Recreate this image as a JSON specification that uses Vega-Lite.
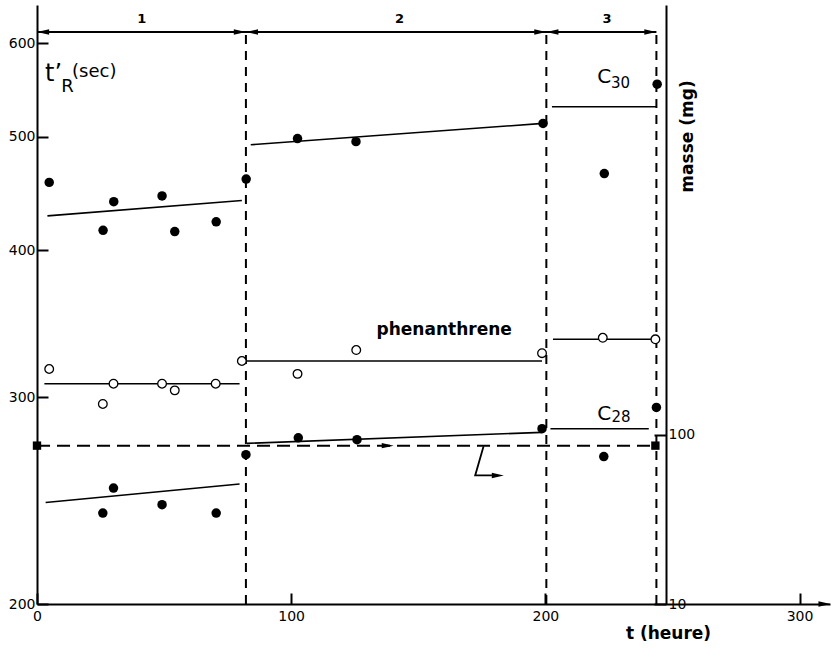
{
  "$schema": "https://vega.github.io/schema/vega-lite/v6.json",
  "width": 793,
  "height": 599,
  "autosize": {"type": "none"},
  "padding": {"left": 37, "top": 5, "right": 1, "bottom": 45},
  "background": "white",
  "config": {"view": {"stroke": null}, "font": "DejaVu Sans"},
  "datasets": {
    "pts": [
      {"s": "C30", "f": "filled", "t": 4.8, "v": 457},
      {"s": "C30", "f": "filled", "t": 26.0, "v": 416},
      {"s": "C30", "f": "filled", "t": 30.2, "v": 440},
      {"s": "C30", "f": "filled", "t": 49.2, "v": 445},
      {"s": "C30", "f": "filled", "t": 54.2, "v": 415},
      {"s": "C30", "f": "filled", "t": 70.5, "v": 423},
      {"s": "C30", "f": "filled", "t": 82.3, "v": 460},
      {"s": "C30", "f": "filled", "t": 102.5, "v": 498},
      {"s": "C30", "f": "filled", "t": 125.5, "v": 495},
      {"s": "C30", "f": "filled", "t": 199.1, "v": 513},
      {"s": "C30", "f": "filled", "t": 223.2, "v": 465},
      {"s": "C30", "f": "filled", "t": 244.0, "v": 554},
      {"s": "phenanthrene", "f": "open", "t": 4.8, "v": 317},
      {"s": "phenanthrene", "f": "open", "t": 25.9, "v": 296},
      {"s": "phenanthrene", "f": "open", "t": 30.1, "v": 308},
      {"s": "phenanthrene", "f": "open", "t": 49.2, "v": 308},
      {"s": "phenanthrene", "f": "open", "t": 54.2, "v": 304},
      {"s": "phenanthrene", "f": "open", "t": 70.3, "v": 308},
      {"s": "phenanthrene", "f": "open", "t": 80.6, "v": 322},
      {"s": "phenanthrene", "f": "open", "t": 102.5, "v": 314},
      {"s": "phenanthrene", "f": "open", "t": 125.6, "v": 329},
      {"s": "phenanthrene", "f": "open", "t": 198.7, "v": 327},
      {"s": "phenanthrene", "f": "open", "t": 222.6, "v": 337},
      {"s": "phenanthrene", "f": "open", "t": 243.3, "v": 336},
      {"s": "C28", "f": "filled", "t": 25.9, "v": 239},
      {"s": "C28", "f": "filled", "t": 30.1, "v": 251},
      {"s": "C28", "f": "filled", "t": 49.2, "v": 243},
      {"s": "C28", "f": "filled", "t": 70.5, "v": 239},
      {"s": "C28", "f": "filled", "t": 82.2, "v": 268},
      {"s": "C28", "f": "filled", "t": 102.8, "v": 277},
      {"s": "C28", "f": "filled", "t": 125.9, "v": 276},
      {"s": "C28", "f": "filled", "t": 198.7, "v": 282},
      {"s": "C28", "f": "filled", "t": 223.0, "v": 267},
      {"s": "C28", "f": "filled", "t": 243.7, "v": 294}
    ],
    "fits": [
      {"id": "C30-1", "t": 4.1, "v": 428}, {"id": "C30-1", "t": 80.6, "v": 441},
      {"id": "C30-2", "t": 84.1, "v": 492}, {"id": "C30-2", "t": 199.1, "v": 513},
      {"id": "C30-3", "t": 202.6, "v": 530}, {"id": "C30-3", "t": 243.7, "v": 530},
      {"id": "phen-1", "t": 2.9, "v": 308}, {"id": "phen-1", "t": 79.7, "v": 308},
      {"id": "phen-2", "t": 81.9, "v": 322}, {"id": "phen-2", "t": 198.7, "v": 322},
      {"id": "phen-3", "t": 203.0, "v": 336}, {"id": "phen-3", "t": 243.3, "v": 336},
      {"id": "C28-1", "t": 3.4, "v": 244}, {"id": "C28-1", "t": 79.7, "v": 253},
      {"id": "C28-2", "t": 82.6, "v": 274}, {"id": "C28-2", "t": 198.7, "v": 280},
      {"id": "C28-3", "t": 202.0, "v": 282}, {"id": "C28-3", "t": 240.7, "v": 282}
    ],
    "bounds": [
      {"t": 82.2, "v": 200, "v2": 613.7},
      {"t": 200.4, "v": 200, "v2": 613.7},
      {"t": 243.7, "v": 200, "v2": 613.7}
    ],
    "span": [{"t": 0, "t2": 243.7, "v": 613.7}],
    "headsR": [
      {"t": 79.8, "v": 613.7}, {"t": 198.0, "v": 613.7}, {"t": 241.3, "v": 613.7},
      {"t": 309.8, "v": 200}, {"t": 181.3, "v": 257.3}
    ],
    "headsL": [
      {"t": 2.4, "v": 613.7}, {"t": 84.6, "v": 613.7}, {"t": 202.8, "v": 613.7}
    ],
    "hook": [
      {"i": 1, "t": 175.7, "v": 272.5},
      {"i": 2, "t": 172.4, "v": 257.3},
      {"i": 3, "t": 179.0, "v": 257.3}
    ],
    "masse": [{"t": 0, "m": 86.5}, {"t": 243.3, "m": 86.5}],
    "masseHead": [{"t": 138, "m": 86.5}],
    "ann": [
      {"g": "seg", "txt": "1", "t": 41.2, "v": 630},
      {"g": "seg", "txt": "2", "t": 142.6, "v": 630},
      {"g": "seg", "txt": "3", "t": 224.3, "v": 630},
      {"g": "tR", "txt": "t’", "t": 3.15, "v": 557},
      {"g": "R", "txt": "R", "t": 9.5, "v": 546},
      {"g": "sec", "txt": "(sec)", "t": 13.8, "v": 562},
      {"g": "C", "txt": "C", "t": 220.4, "v": 555},
      {"g": "sub", "txt": "30", "t": 225.8, "v": 550},
      {"g": "C", "txt": "C", "t": 220.4, "v": 286.8},
      {"g": "sub", "txt": "28", "t": 226.0, "v": 285.8},
      {"g": "phen", "txt": "phenanthrene", "t": 160.2, "v": 338.8}
    ]
  },
  "encoding": {
    "x": {
      "field": "t",
      "type": "quantitative",
      "scale": {"domain": [0, 312], "nice": false, "zero": false},
      "axis": {
        "values": [0, 100, 200, 300],
        "format": "d",
        "grid": false,
        "tickSize": -11,
        "tickWidth": 2,
        "tickColor": "black",
        "domainWidth": 2,
        "domainColor": "black",
        "labelPadding": 16,
        "labelFlush": false,
        "labelFont": "DejaVu Sans",
        "labelFontSize": 14,
        "labelColor": "black",
        "title": "t (heure)",
        "titleFont": "DejaVu Sans",
        "titleFontSize": 17,
        "titleFontWeight": "bold",
        "titleColor": "black",
        "titleX": 631,
        "titleY": 29,
        "titleAlign": "center",
        "titleBaseline": "middle"
      }
    }
  },
  "layer": [
    {
      "encoding": {
        "y": {
          "field": "v",
          "type": "quantitative",
          "scale": {"type": "log", "domain": [200, 647], "nice": false},
          "axis": {
            "orient": "left",
            "values": [200, 300, 400, 500, 600],
            "format": "d",
            "grid": false,
            "tickSize": -11,
            "tickWidth": 2,
            "tickColor": "black",
            "domainWidth": 2,
            "domainColor": "black",
            "labelPadding": 13,
            "labelFlush": false,
            "labelFont": "DejaVu Sans",
            "labelFontSize": 14,
            "labelColor": "black",
            "title": null
          }
        }
      },
      "layer": [
        {
          "data": {"name": "bounds"},
          "mark": {"type": "rule", "color": "black", "strokeWidth": 2, "strokeDash": [9, 7]},
          "encoding": {"y2": {"field": "v2"}}
        },
        {
          "data": {"name": "span"},
          "mark": {"type": "rule", "color": "black", "strokeWidth": 2},
          "encoding": {"x2": {"field": "t2"}}
        },
        {
          "data": {"name": "headsR"},
          "mark": {"type": "point", "filled": true, "color": "black", "opacity": 1, "size": 144, "shape": "M1,0L-1,-0.45L-1,0.45Z"},
          "encoding": {}
        },
        {
          "data": {"name": "headsL"},
          "mark": {"type": "point", "filled": true, "color": "black", "opacity": 1, "size": 144, "shape": "M-1,0L1,-0.45L1,0.45Z"},
          "encoding": {}
        },
        {
          "data": {"name": "hook"},
          "mark": {"type": "line", "color": "black", "strokeWidth": 1.8},
          "encoding": {"order": {"field": "i"}}
        },
        {
          "data": {"name": "fits"},
          "mark": {"type": "line", "color": "black", "strokeWidth": 1.6},
          "encoding": {"detail": {"field": "id"}}
        },
        {
          "data": {"name": "pts"},
          "transform": [{"filter": "datum.f === 'filled'"}],
          "mark": {"type": "point", "shape": "circle", "filled": true, "color": "black", "opacity": 1, "size": 90},
          "encoding": {}
        },
        {
          "data": {"name": "pts"},
          "transform": [{"filter": "datum.f === 'open'"}],
          "mark": {"type": "point", "shape": "circle", "filled": true, "fill": "white", "stroke": "black", "strokeWidth": 1.3, "opacity": 1, "size": 75},
          "encoding": {}
        },
        {
          "data": {"name": "ann"},
          "transform": [{"filter": "datum.g === 'seg'"}],
          "mark": {"type": "text", "font": "DejaVu Sans", "fontSize": 13, "fontWeight": "bold", "align": "center", "baseline": "middle", "color": "black"},
          "encoding": {"text": {"field": "txt"}}
        },
        {
          "data": {"name": "ann"},
          "transform": [{"filter": "datum.g === 'tR'"}],
          "mark": {"type": "text", "font": "DejaVu Sans", "fontSize": 24, "align": "left", "baseline": "alphabetic", "color": "black"},
          "encoding": {"text": {"field": "txt"}}
        },
        {
          "data": {"name": "ann"},
          "transform": [{"filter": "datum.g === 'R'"}],
          "mark": {"type": "text", "font": "DejaVu Sans", "fontSize": 18, "align": "left", "baseline": "alphabetic", "color": "black"},
          "encoding": {"text": {"field": "txt"}}
        },
        {
          "data": {"name": "ann"},
          "transform": [{"filter": "datum.g === 'sec'"}],
          "mark": {"type": "text", "font": "DejaVu Sans", "fontSize": 18, "align": "left", "baseline": "alphabetic", "color": "black"},
          "encoding": {"text": {"field": "txt"}}
        },
        {
          "data": {"name": "ann"},
          "transform": [{"filter": "datum.g === 'C'"}],
          "mark": {"type": "text", "font": "DejaVu Sans", "fontSize": 20, "align": "left", "baseline": "alphabetic", "color": "black"},
          "encoding": {"text": {"field": "txt"}}
        },
        {
          "data": {"name": "ann"},
          "transform": [{"filter": "datum.g === 'sub'"}],
          "mark": {"type": "text", "font": "DejaVu Sans", "fontSize": 15, "align": "left", "baseline": "alphabetic", "color": "black"},
          "encoding": {"text": {"field": "txt"}}
        },
        {
          "data": {"name": "ann"},
          "transform": [{"filter": "datum.g === 'phen'"}],
          "mark": {"type": "text", "font": "DejaVu Sans", "fontSize": 17, "fontWeight": "bold", "align": "center", "baseline": "alphabetic", "color": "black"},
          "encoding": {"text": {"field": "txt"}}
        }
      ]
    },
    {
      "encoding": {
        "y": {
          "field": "m",
          "type": "quantitative",
          "scale": {"type": "log", "domain": [10, 35000], "nice": false},
          "axis": {
            "orient": "right",
            "offset": -164,
            "values": [10, 100],
            "format": "d",
            "grid": false,
            "tickSize": -12,
            "tickWidth": 2,
            "tickColor": "black",
            "domainWidth": 2,
            "domainColor": "black",
            "labelPadding": 14,
            "labelFlush": false,
            "labelFont": "DejaVu Sans",
            "labelFontSize": 14,
            "labelColor": "black",
            "title": "masse (mg)",
            "titleFont": "DejaVu Sans",
            "titleFontSize": 17,
            "titleFontWeight": "bold",
            "titleColor": "black",
            "titleAngle": 270,
            "titleX": 21,
            "titleY": 131,
            "titleAlign": "center",
            "titleBaseline": "middle"
          }
        }
      },
      "layer": [
        {
          "data": {"name": "masse"},
          "mark": {"type": "line", "color": "black", "strokeWidth": 2, "strokeDash": [13, 7]},
          "encoding": {}
        },
        {
          "data": {"name": "masse"},
          "mark": {"type": "point", "shape": "square", "filled": true, "color": "black", "opacity": 1, "size": 70},
          "encoding": {}
        },
        {
          "data": {"name": "masseHead"},
          "mark": {"type": "point", "filled": true, "color": "black", "opacity": 1, "size": 144, "shape": "M1,0L-1,-0.45L-1,0.45Z"},
          "encoding": {}
        }
      ]
    }
  ],
  "resolve": {"scale": {"y": "independent"}}
}
